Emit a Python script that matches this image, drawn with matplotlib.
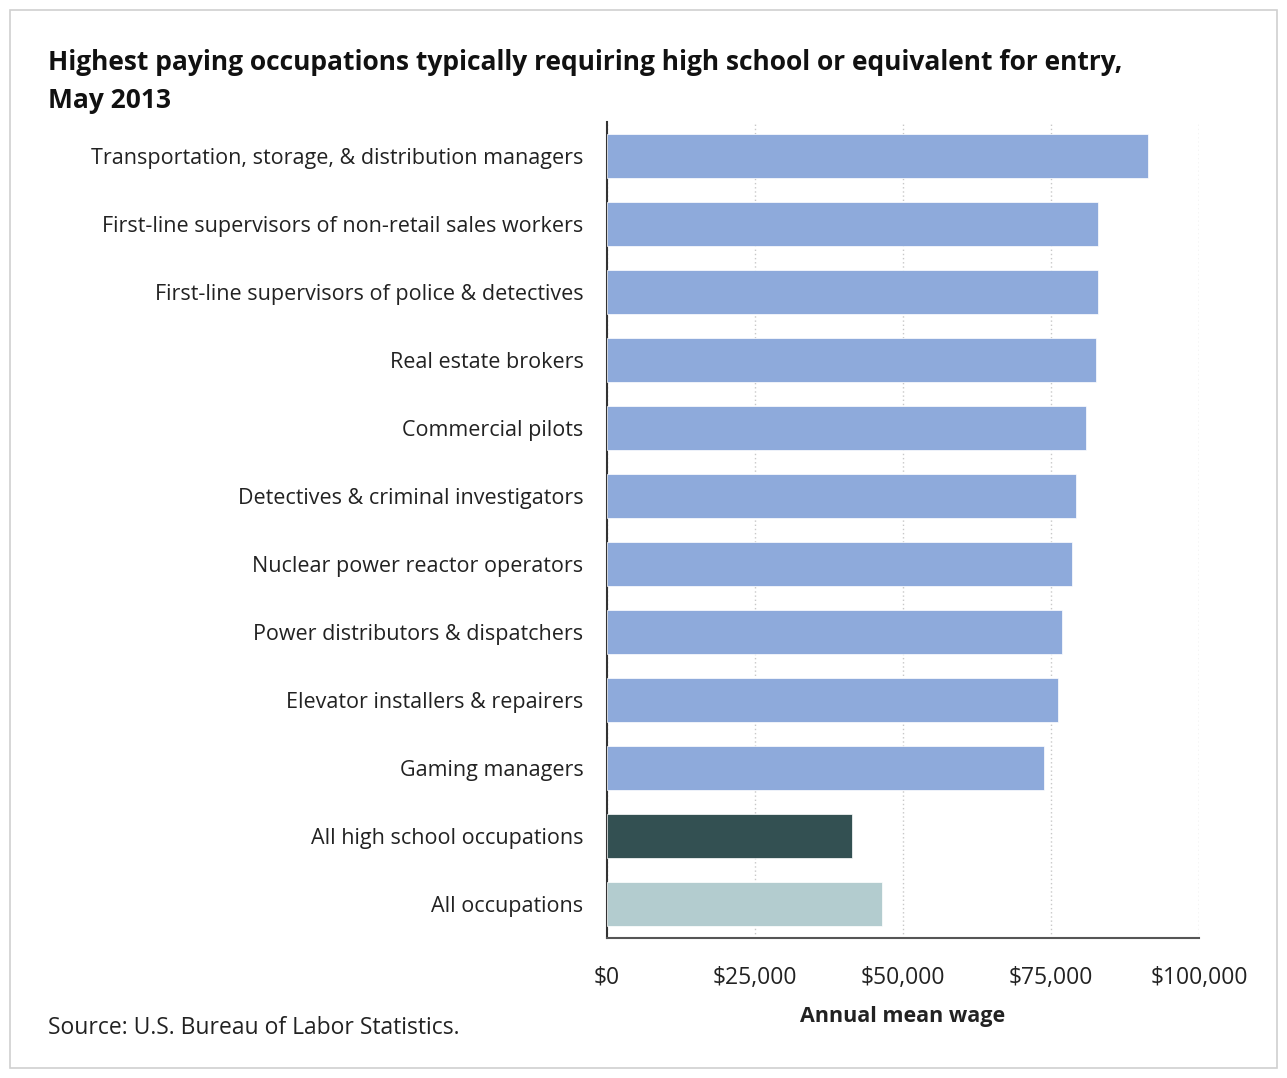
import matplotlib.pyplot as plt
from matplotlib.patches import Rectangle
from matplotlib.ticker import FuncFormatter

occupations = [
    "Transportation, storage, & distribution managers",
    "First-line supervisors of non-retail sales workers",
    "First-line supervisors of police & detectives",
    "Real estate brokers",
    "Commercial pilots",
    "Detectives & criminal investigators",
    "Nuclear power reactor operators",
    "Power distributors & dispatchers",
    "Elevator installers & repairers",
    "Gaming managers",
    "All high school occupations",
    "All occupations",
]
wages = [91400, 82900, 82900, 82600, 80900, 79200, 78500, 76900, 76200, 73800, 41400, 46500]
bar_colors = ["#8eaadb"] * 10 + ["#335052", "#b3cccf"]
ticks = [0, 25000, 50000, 75000, 100000]

plt.rcParams['font.family'] = ['Open Sans', 'DejaVu Sans']

fig = plt.figure(figsize=(12.87, 10.78), dpi=100)
fig.patches.append(Rectangle((10 / 1287, 10 / 1078), 1 - 20 / 1287, 1 - 20 / 1078,
                             transform=fig.transFigure, fill=False,
                             edgecolor="#d0d0d0", linewidth=1.2))

ax = fig.add_axes([607 / 1287, 1 - 938 / 1078, 592 / 1287, 816 / 1078])
y = list(range(len(occupations)))
ax.barh(y, wages, height=0.66, color=bar_colors, edgecolor="white", linewidth=0.5, zorder=3)
ax.set_ylim(len(occupations) - 0.5, -0.5)
ax.set_xlim(0, 100000)
ax.set_xticks(ticks)
ax.xaxis.set_major_formatter(FuncFormatter(lambda v, p: "${:,.0f}".format(v)))
ax.set_yticks(y)
ax.set_yticklabels(occupations, fontsize=15.5, color="#222222")
ax.tick_params(axis="y", length=0, pad=17)
ax.tick_params(axis="x", length=0, pad=20, labelsize=16.5, labelcolor="#222222")
ax.grid(axis="x", linestyle=(0, (1, 2)), color="#c8c8c8", linewidth=1, zorder=0)
for s in ["top", "right"]:
    ax.spines[s].set_visible(False)
ax.spines["left"].set_color("#333333")
ax.spines["left"].set_linewidth(1.5)
ax.spines["bottom"].set_color("#555555")
ax.spines["bottom"].set_linewidth(1.5)
ax.set_xlabel("Annual mean wage", fontsize=15.5, fontweight="bold", color="#222222", labelpad=12)

fig.text(48 / 1287, 1 - 62 / 1078, "Highest paying occupations typically requiring high school or equivalent for entry,",
         fontsize=19, fontweight="bold", color="#111111", va="center", ha="left")
fig.text(48 / 1287, 1 - 100 / 1078, "May 2013",
         fontsize=19, fontweight="bold", color="#111111", va="center", ha="left")
fig.text(48 / 1287, 1 - 1028 / 1078, "Source: U.S. Bureau of Labor Statistics.", fontsize=16.5,
         color="#222222", va="center", ha="left")

fig.savefig("out.png", dpi=100)
